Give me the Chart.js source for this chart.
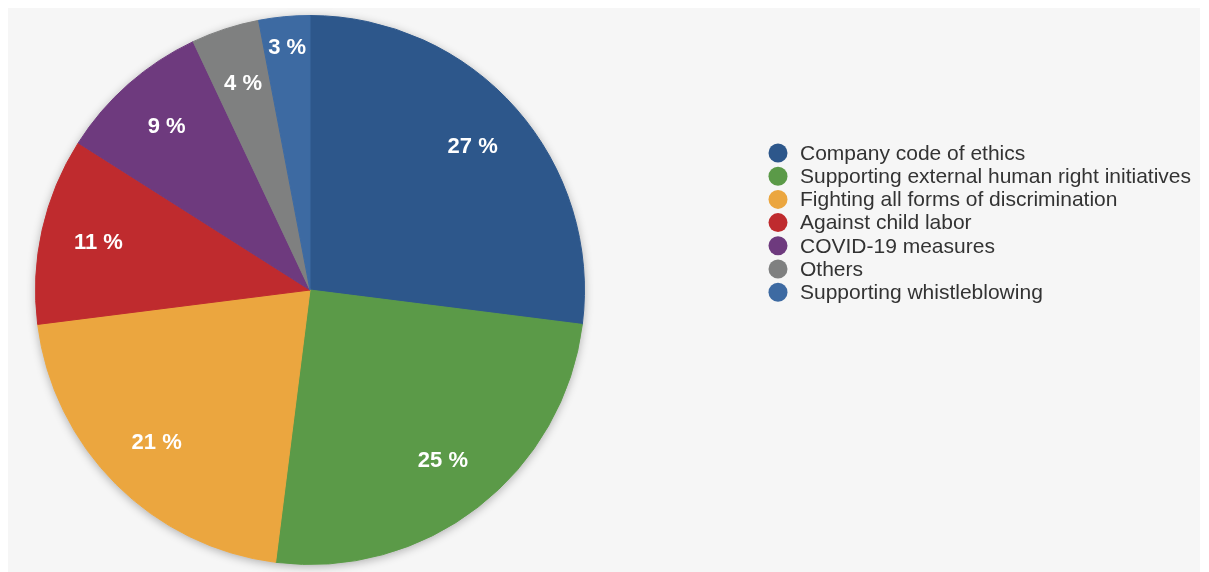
<!DOCTYPE html>
<html>
<head>
<meta charset="utf-8">
<script src="https://cdn.jsdelivr.net/npm/chart.js@4"></script>
<style>
    body { margin: 0; background: #fff; }
    #box { position: absolute; left: 8px; top: 8px; width: 1192px; height: 564px; background: #f6f6f6; }
</style>
</head>
<body>
<div id="box"><canvas id="pieChart" width="1192" height="564"></canvas></div>
<script>
const labels = [
    'Company code of ethics',
    'Supporting external human right initiatives',
    'Fighting all forms of discrimination',
    'Against child labor',
    'COVID-19 measures',
    'Others',
    'Supporting whistleblowing'
];
const values = [27, 25, 21, 11, 9, 4, 3];
const colors = ['#2d578b', '#5b9a48', '#eba63f', '#bf2b2e', '#6e3a7e', '#7f8080', '#3d6aa2'];

const font = '"Liberation Sans", Arial, sans-serif';

// soft shadow behind the whole pie
const pieShadow = {
    id: 'pieShadow',
    beforeDatasetsDraw(chart) {
        const arc = chart.getDatasetMeta(0).data[0];
        if (!arc) return;
        const c = chart.ctx;
        c.save();
        c.shadowColor = 'rgba(0,0,0,0.3)';
        c.shadowBlur = 10;
        c.shadowOffsetY = 2;
        c.fillStyle = '#f6f6f6';
        c.beginPath();
        c.arc(arc.x, arc.y, arc.outerRadius, 0, Math.PI * 2);
        c.fill();
        c.restore();
    }
};

// percent labels inside the slices
const sliceLabels = {
    id: 'sliceLabels',
    afterDatasetsDraw(chart) {
        const c = chart.ctx;
        const meta = chart.getDatasetMeta(0);
        c.save();
        c.fillStyle = '#fff';
        c.font = 'bold 22px ' + font;
        c.textAlign = 'center';
        c.textBaseline = 'middle';
        meta.data.forEach((arc, i) => {
            const mid = (arc.startAngle + arc.endAngle) / 2;
            const f = values[i] < 3.5 ? 0.885 : 0.79;
            const r = arc.outerRadius * f;
            c.fillText(values[i] + ' %', arc.x + Math.cos(mid) * r, arc.y + Math.sin(mid) * r);
        });
        c.restore();
    }
};

// legend on the right
const sideLegend = {
    id: 'sideLegend',
    afterDraw(chart) {
        const c = chart.ctx;
        c.save();
        c.font = '21px ' + font;
        c.textBaseline = 'middle';
        labels.forEach((l, i) => {
            const y = 145 + i * 23.2;
            c.fillStyle = colors[i];
            c.beginPath();
            c.arc(770, y, 9.5, 0, Math.PI * 2);
            c.fill();
            c.fillStyle = '#333';
            c.fillText(l, 792, y + 1);
        });
        c.restore();
    }
};

new Chart(document.getElementById('pieChart'), {
    type: 'pie',
    data: {
        labels: labels,
        datasets: [{
            data: values,
            backgroundColor: colors,
            borderColor: colors,
            borderWidth: 1
        }]
    },
    options: {
        responsive: false,
        animation: false,
        layout: { padding: { top: 7, bottom: 7, left: 27, right: 615 } },
        plugins: {
            legend: { display: false },
            tooltip: { enabled: false }
        }
    },
    plugins: [pieShadow, sliceLabels, sideLegend]
});
</script>
</body>
</html>
